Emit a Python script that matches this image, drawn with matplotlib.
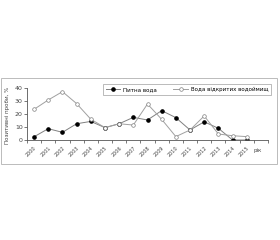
import matplotlib
matplotlib.use("Agg")
import matplotlib.pyplot as plt
from matplotlib.patches import Rectangle

# data
years = ["2000", "2001", "2002", "2003", "2004", "2005", "2006", "2007",
         "2008", "2009", "2010", "2011", "2012", "2013", "2014", "2015"]
drinking = [2.5, 8.7, 5.9, 12.5, 14.3, 9.5, 12.5, 17.4, 15.4, 22.6, 17.2, 7.7, 14, 9, 0, 0]
open_water = [23.6, 30.8, 37.2, 28, 16, 9.5, 12.5, 11.5, 27.7, 15.9, 2.6, 7.7, 18.5, 4.6, 3.3, 2.6]
yticks = [0, 10, 20, 30, 40]

fig = plt.figure(figsize=(2.8, 2.4), dpi=100)

# outer frame around the chart
fig.patches.append(Rectangle((1 / 280, 76 / 240), 276 / 280, 86 / 240,
                             transform=fig.transFigure, fill=False,
                             edgecolor="#bbbbbb", linewidth=0.7))

ax = fig.add_axes([27 / 280, 100 / 240, 241 / 280, 52 / 240])
x = list(range(len(years)))
ax.plot(x, drinking, color="#808080", linewidth=0.7, marker="o", markersize=2.3,
        markerfacecolor="black", markeredgecolor="black", label="Питна вода")
ax.plot(x, open_water, color="#a0a0a0", linewidth=0.7, marker="o", markersize=2.6,
        markerfacecolor="white", markeredgecolor="#808080", markeredgewidth=0.5,
        label="Вода відкритих водоймищ")

ax.set_xlim(-0.5, len(years) + 0.5)
ax.set_ylim(0, 40)
ax.set_yticks(yticks)
ax.set_xticks([i - 0.5 for i in range(len(years) + 2)], minor=False)
ax.set_xticklabels([])
for i, yr in enumerate(years):
    ax.text(i, -4, yr, rotation=45, ha="right", va="top", fontsize=3.5,
            color="#444444", transform=ax.transData, rotation_mode="anchor")
ax.text(len(years) - 0.2, -6, "рік", ha="center", va="top", fontsize=4,
        color="#444444")

ax.tick_params(axis="y", labelsize=4.5, length=2, width=0.5, pad=1, colors="#444444")
ax.tick_params(axis="x", length=2, width=0.5, colors="#444444")
for s in ["top", "right"]:
    ax.spines[s].set_visible(False)
for s in ["left", "bottom"]:
    ax.spines[s].set_linewidth(0.6)
    ax.spines[s].set_color("#555555")

fig.text(8 / 280, 1 - 115 / 240, "Позитивні проби, %", rotation=90,
         ha="center", va="center", fontsize=4, color="#444444")

leg = fig.legend(loc="center", bbox_to_anchor=(187 / 280, 1 - 89.5 / 240), ncol=2,
                 fontsize=4, frameon=True, fancybox=False, edgecolor="#888888",
                 handlelength=2.6, columnspacing=3, borderpad=0.5, handletextpad=0.5)
leg.get_frame().set_linewidth(0.5)

fig.savefig("out.png", dpi=100)
